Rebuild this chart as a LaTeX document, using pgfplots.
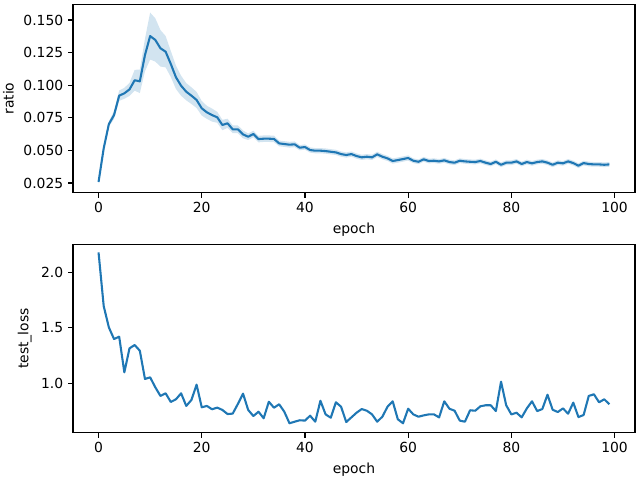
\documentclass[border=0pt]{standalone}
\usepackage{fontspec}
\setmainfont{DejaVu Sans}
\usepackage{pgfplots}
\pgfplotsset{compat=1.18}
\usepgfplotslibrary{fillbetween}
\usepackage{pgfplotstable}
\definecolor{tabblue}{HTML}{1F77B4}

\pgfplotstableread{
epoch mean hw loss
0 0.0258 0.0015 2.180
1 0.0516 0.0020 1.696
2 0.0702 0.0020 1.504
3 0.0771 0.0030 1.399
4 0.0920 0.0040 1.420
5 0.0938 0.0042 1.099
6 0.0968 0.0050 1.315
7 0.1038 0.0080 1.345
8 0.1030 0.0090 1.294
9 0.1232 0.0125 1.039
10 0.1377 0.0180 1.054
11 0.1347 0.0166 0.964
12 0.1283 0.0140 0.886
13 0.1257 0.0120 0.910
14 0.1163 0.0100 0.832
15 0.1061 0.0090 0.856
16 0.0996 0.0077 0.910
17 0.0950 0.0066 0.796
18 0.0920 0.0064 0.850
19 0.0887 0.0062 0.988
20 0.0823 0.0056 0.784
21 0.0792 0.0050 0.796
22 0.0771 0.0050 0.766
23 0.0754 0.0042 0.781
24 0.0695 0.0040 0.760
25 0.0708 0.0035 0.723
26 0.0662 0.0030 0.727
27 0.0662 0.0030 0.814
28 0.0623 0.0030 0.907
29 0.0605 0.0025 0.760
30 0.0626 0.0025 0.705
31 0.0587 0.0025 0.744
32 0.0590 0.0025 0.685
33 0.0590 0.0025 0.834
34 0.0588 0.0025 0.780
35 0.0554 0.0022 0.811
36 0.0549 0.0022 0.744
37 0.0544 0.0022 0.640
38 0.0547 0.0022 0.654
39 0.0521 0.0020 0.667
40 0.0526 0.0020 0.664
41 0.0503 0.0020 0.708
42 0.0498 0.0020 0.654
43 0.0498 0.0020 0.843
44 0.0495 0.0020 0.720
45 0.0490 0.0020 0.690
46 0.0485 0.0020 0.829
47 0.0472 0.0020 0.789
48 0.0465 0.0020 0.651
49 0.0472 0.0020 0.693
50 0.0457 0.0020 0.735
51 0.0447 0.0020 0.768
52 0.0452 0.0020 0.753
53 0.0447 0.0020 0.720
54 0.0470 0.0020 0.654
55 0.0452 0.0020 0.699
56 0.0439 0.0020 0.789
57 0.0419 0.0020 0.838
58 0.0426 0.0020 0.676
59 0.0434 0.0020 0.640
60 0.0442 0.0020 0.771
61 0.0421 0.0018 0.720
62 0.0413 0.0018 0.699
63 0.0432 0.0018 0.711
64 0.0419 0.0018 0.720
65 0.0421 0.0018 0.720
66 0.0416 0.0018 0.693
67 0.0424 0.0018 0.838
68 0.0411 0.0018 0.771
69 0.0406 0.0018 0.753
70 0.0421 0.0018 0.664
71 0.0416 0.0018 0.654
72 0.0413 0.0018 0.757
73 0.0411 0.0018 0.753
74 0.0419 0.0018 0.793
75 0.0406 0.0018 0.802
76 0.0396 0.0018 0.802
77 0.0413 0.0018 0.750
78 0.0390 0.0018 1.015
79 0.0406 0.0018 0.802
80 0.0406 0.0018 0.720
81 0.0416 0.0018 0.735
82 0.0396 0.0018 0.693
83 0.0411 0.0018 0.774
84 0.0401 0.0018 0.838
85 0.0411 0.0018 0.750
86 0.0416 0.0018 0.768
87 0.0406 0.0018 0.897
88 0.0390 0.0018 0.762
89 0.0406 0.0018 0.741
90 0.0401 0.0018 0.774
91 0.0416 0.0018 0.726
92 0.0403 0.0018 0.826
93 0.0383 0.0018 0.696
94 0.0403 0.0018 0.714
95 0.0396 0.0018 0.886
96 0.0393 0.0018 0.901
97 0.0393 0.0018 0.829
98 0.0390 0.0018 0.856
99 0.0393 0.0018 0.811
}\data

\pgfplotsset{
  mplstyle/.style={
    scale only axis,
    anchor=south west,
    width=404.6pt,
    height=135.6pt,
    xmin=-4.95, xmax=103.95,
    xtick={0,20,40,60,80,100},
    tick align=outside,
    major tick length=3.5pt,
    every tick/.style={black, line width=0.8pt},
    axis line style={line width=0.8pt},
    tick label style={font=\fontsize{10}{12}\selectfont},
    label style={font=\fontsize{10}{12}\selectfont},
    /pgf/number format/assume math mode=true,
    xtick pos=bottom, ytick pos=left,
    xlabel={epoch},
    clip=true,
  }
}

\begin{document}
\begin{tikzpicture}
\begin{axis}[mplstyle,
  at={(52.56pt,206.86pt)},
  ymin=0.0176, ymax=0.162,
  ytick={0.025,0.05,0.075,0.1,0.125,0.15},
  yticklabel style={/pgf/number format/.cd, fixed, fixed zerofill, precision=3},
  scaled y ticks=false,
  ylabel={ratio},
]
\addplot[name path=hi, draw=none, forget plot] table[x=epoch, y expr=\thisrow{mean}+\thisrow{hw}] {\data};
\addplot[name path=lo, draw=none, forget plot] table[x=epoch, y expr=\thisrow{mean}-\thisrow{hw}] {\data};
\addplot[fill=tabblue, fill opacity=0.2, draw=none] fill between[of=hi and lo];
\addplot[tabblue, line width=1.5pt, line join=round] table[x=epoch, y=mean] {\data};
\end{axis}

\begin{axis}[mplstyle,
  at={(52.56pt,34.06pt)},
  ymin=0.555, ymax=2.252,
  ytick={1.0,1.5,2.0},
  yticklabel style={/pgf/number format/.cd, fixed, fixed zerofill, precision=1},
  ylabel={test\_loss},
]
\addplot[tabblue, line width=1.5pt, line join=round] table[x=epoch, y=loss] {\data};
\end{axis}
\pgfresetboundingbox
\useasboundingbox (0,0) rectangle (460.8pt,345.6pt);
\end{tikzpicture}
\end{document}
